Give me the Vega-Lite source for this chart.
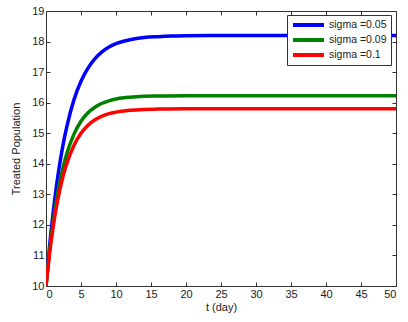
{
  "$schema": "https://vega.github.io/schema/vega-lite/v6.json",
  "autosize": {"type": "none"},
  "padding": {"left": 46, "top": 11, "right": 12, "bottom": 36},
  "width": 350,
  "height": 275,
  "config": {
    "font": "Liberation Sans",
    "view": {"stroke": "#333", "strokeWidth": 1},
    "axis": {"grid": false, "domainColor": "#333", "tickColor": "#333", "labelColor": "#222", "titleColor": "#222", "labelFontSize": 11, "titleFontSize": 11, "titleFontWeight": "normal", "tickSize": -4}
  },
  "data": {"values": [
    {"t": 0, "y": 10, "sigma": "sigma =0.05"},
    {"t": 0.5, "y": 11.28, "sigma": "sigma =0.05"},
    {"t": 1, "y": 12.36, "sigma": "sigma =0.05"},
    {"t": 1.5, "y": 13.28, "sigma": "sigma =0.05"},
    {"t": 2, "y": 14.05, "sigma": "sigma =0.05"},
    {"t": 2.5, "y": 14.70, "sigma": "sigma =0.05"},
    {"t": 3, "y": 15.24, "sigma": "sigma =0.05"},
    {"t": 4, "y": 16.10, "sigma": "sigma =0.05"},
    {"t": 5, "y": 16.70, "sigma": "sigma =0.05"},
    {"t": 6, "y": 17.13, "sigma": "sigma =0.05"},
    {"t": 7, "y": 17.44, "sigma": "sigma =0.05"},
    {"t": 8, "y": 17.66, "sigma": "sigma =0.05"},
    {"t": 9, "y": 17.82, "sigma": "sigma =0.05"},
    {"t": 10, "y": 17.93, "sigma": "sigma =0.05"},
    {"t": 12, "y": 18.06, "sigma": "sigma =0.05"},
    {"t": 14, "y": 18.13, "sigma": "sigma =0.05"},
    {"t": 16, "y": 18.16, "sigma": "sigma =0.05"},
    {"t": 18, "y": 18.18, "sigma": "sigma =0.05"},
    {"t": 20, "y": 18.19, "sigma": "sigma =0.05"},
    {"t": 25, "y": 18.2, "sigma": "sigma =0.05"},
    {"t": 30, "y": 18.2, "sigma": "sigma =0.05"},
    {"t": 40, "y": 18.2, "sigma": "sigma =0.05"},
    {"t": 50, "y": 18.2, "sigma": "sigma =0.05"},
    {"t": 0, "y": 10, "sigma": "sigma =0.09"},
    {"t": 0.5, "y": 11.13, "sigma": "sigma =0.09"},
    {"t": 1, "y": 12.05, "sigma": "sigma =0.09"},
    {"t": 1.5, "y": 12.81, "sigma": "sigma =0.09"},
    {"t": 2, "y": 13.43, "sigma": "sigma =0.09"},
    {"t": 2.5, "y": 13.94, "sigma": "sigma =0.09"},
    {"t": 3, "y": 14.35, "sigma": "sigma =0.09"},
    {"t": 4, "y": 14.97, "sigma": "sigma =0.09"},
    {"t": 5, "y": 15.39, "sigma": "sigma =0.09"},
    {"t": 6, "y": 15.67, "sigma": "sigma =0.09"},
    {"t": 7, "y": 15.85, "sigma": "sigma =0.09"},
    {"t": 8, "y": 15.98, "sigma": "sigma =0.09"},
    {"t": 9, "y": 16.06, "sigma": "sigma =0.09"},
    {"t": 10, "y": 16.12, "sigma": "sigma =0.09"},
    {"t": 12, "y": 16.18, "sigma": "sigma =0.09"},
    {"t": 14, "y": 16.21, "sigma": "sigma =0.09"},
    {"t": 16, "y": 16.22, "sigma": "sigma =0.09"},
    {"t": 20, "y": 16.23, "sigma": "sigma =0.09"},
    {"t": 30, "y": 16.23, "sigma": "sigma =0.09"},
    {"t": 40, "y": 16.23, "sigma": "sigma =0.09"},
    {"t": 50, "y": 16.23, "sigma": "sigma =0.09"},
    {"t": 0, "y": 10, "sigma": "sigma =0.1"},
    {"t": 0.5, "y": 11.04, "sigma": "sigma =0.1"},
    {"t": 1, "y": 11.90, "sigma": "sigma =0.1"},
    {"t": 1.5, "y": 12.60, "sigma": "sigma =0.1"},
    {"t": 2, "y": 13.17, "sigma": "sigma =0.1"},
    {"t": 2.5, "y": 13.65, "sigma": "sigma =0.1"},
    {"t": 3, "y": 14.03, "sigma": "sigma =0.1"},
    {"t": 4, "y": 14.61, "sigma": "sigma =0.1"},
    {"t": 5, "y": 15.00, "sigma": "sigma =0.1"},
    {"t": 6, "y": 15.26, "sigma": "sigma =0.1"},
    {"t": 7, "y": 15.44, "sigma": "sigma =0.1"},
    {"t": 8, "y": 15.56, "sigma": "sigma =0.1"},
    {"t": 9, "y": 15.64, "sigma": "sigma =0.1"},
    {"t": 10, "y": 15.69, "sigma": "sigma =0.1"},
    {"t": 12, "y": 15.75, "sigma": "sigma =0.1"},
    {"t": 14, "y": 15.78, "sigma": "sigma =0.1"},
    {"t": 16, "y": 15.79, "sigma": "sigma =0.1"},
    {"t": 20, "y": 15.8, "sigma": "sigma =0.1"},
    {"t": 30, "y": 15.8, "sigma": "sigma =0.1"},
    {"t": 40, "y": 15.8, "sigma": "sigma =0.1"},
    {"t": 50, "y": 15.8, "sigma": "sigma =0.1"}
  ]},
  "layer": [
    {
      "mark": {"type": "line", "strokeWidth": 3.5, "interpolate": "monotone", "clip": true},
      "encoding": {
        "x": {"field": "t", "type": "quantitative", "scale": {"domain": [0, 50], "nice": false, "zero": false},
              "axis": {"title": "t (day)", "values": [0,5,10,15,20,25,30,35,40,45,50], "labelPadding": 6, "titlePadding": 2}},
        "y": {"field": "y", "type": "quantitative", "scale": {"domain": [10, 19], "nice": false, "zero": false},
              "axis": {"title": "Treated Population", "values": [10,11,12,13,14,15,16,17,18,19], "labelPadding": 6, "titlePadding": 10}},
        "color": {"field": "sigma", "type": "nominal",
                  "scale": {"domain": ["sigma =0.05", "sigma =0.09", "sigma =0.1"], "range": ["#0000ff", "#008000", "#ff0000"]},
                  "legend": {"title": null, "orient": "none", "legendX": 241, "legendY": 4, "symbolType": "stroke", "symbolSize": 960, "symbolStrokeWidth": 4, "labelFontSize": 10.5, "labelColor": "#222", "strokeColor": "#333", "fillColor": "white", "padding": 4, "rowPadding": 3, "labelOffset": 3, "clipHeight": 12}}
      }
    },
    {
      "mark": {"type": "line", "opacity": 0},
      "encoding": {
        "x": {"field": "t", "type": "quantitative", "axis": {"orient": "top", "labels": false, "title": null, "values": [0,5,10,15,20,25,30,35,40,45,50]}},
        "y": {"field": "y", "type": "quantitative", "axis": {"orient": "right", "labels": false, "title": null, "values": [10,11,12,13,14,15,16,17,18,19]}}
      }
    }
  ],
  "resolve": {"axis": {"x": "independent", "y": "independent"}}
}
